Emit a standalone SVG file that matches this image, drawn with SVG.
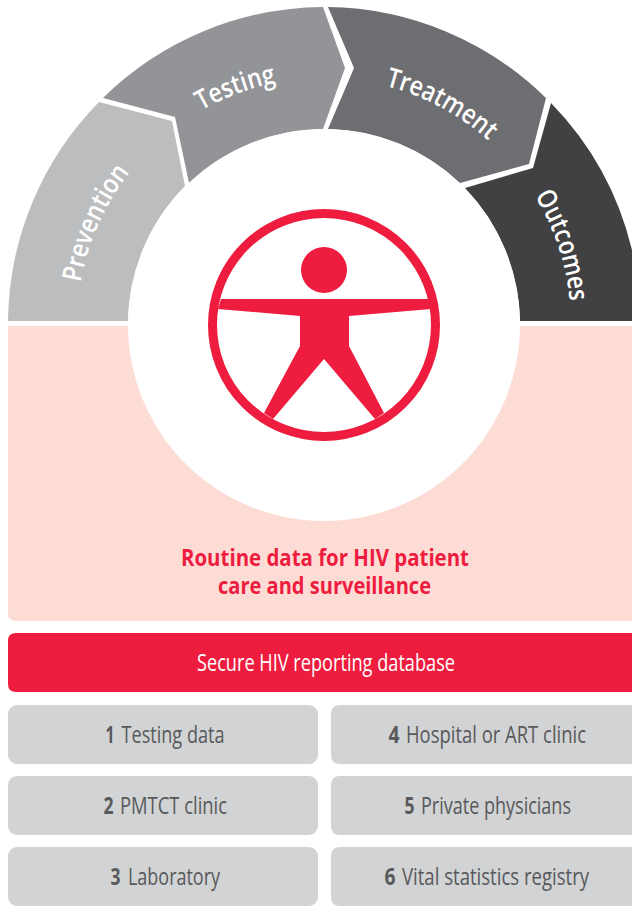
<svg xmlns="http://www.w3.org/2000/svg" width="632" height="906" viewBox="0 0 632 906">
<style>
text{font-family:"Open Sans","Noto Sans","Liberation Sans",sans-serif}
.arc{fill:#fff;font-size:27px;font-weight:600;text-anchor:middle}
.box{fill:#d1d3d4}
.lab{fill:#58595b;font-size:24px}
.num{fill:#58595b;font-size:24px;font-weight:700}
.red{fill:#ee1c3e}
</style>
<defs>
<path id="p1" d="M85.4 388.9A247 247 0 0 1 219.6 101.1"/>
<path id="p2" d="M110.1 201.5A247 247 0 0 1 408.5 92.9"/>
<path id="p3" d="M274.8 83A247 247 0 0 1 553.8 234.5"/>
<path id="p4" d="M451.2 113.3A247 247 0 0 1 554.6 413.5"/>
</defs>
<rect width="632" height="906" fill="#fff"/>
<g id="routine-data">
<path fill="#fddcd6" d="M8 326H632V621H16Q8 621 8 613Z"/>
</g>
<g id="prevention">
<path fill="#bcbdbf" d="M8 321A317 317 0 0 1 99 102L172 121L185 186A196 196 0 0 0 128 321Z"/>
<text class="arc"><textPath href="#p1" startOffset="48.8%" textLength="122" lengthAdjust="spacingAndGlyphs">Prevention</textPath></text>
</g>
<g id="testing">
<path fill="#929497" d="M103 98A317 317 0 0 1 323 7L345 68L323 129A196 196 0 0 0 189 183L175 117Z"/>
<text class="arc"><textPath href="#p2" startOffset="49.4%" textLength="80" lengthAdjust="spacingAndGlyphs">Testing</textPath></text>
</g>
<g id="treatment">
<path fill="#6d6e71" d="M328 7A317 317 0 0 1 546 98L529 164L460 183A196 196 0 0 0 328 129L354 68Z"/>
<text class="arc"><textPath href="#p3" startOffset="49.4%" textLength="118" lengthAdjust="spacingAndGlyphs">Treatment</textPath></text>
</g>
<g id="outcomes">
<path fill="#414042" d="M551 103A317 317 0 0 1 632 250V321H520A196 196 0 0 0 465 188L533 168Z"/>
<text class="arc"><textPath href="#p4" startOffset="50.6%" textLength="112" lengthAdjust="spacingAndGlyphs">Outcomes</textPath></text>
</g>
<g id="centre">
<circle cx="324" cy="325" r="196" fill="#fff"/>
<circle cx="324" cy="325" r="111.5" fill="none" stroke="#ee1c3e" stroke-width="9"/>
<circle class="red" cx="324" cy="270" r="23"/>
<path class="red" d="M221 299H428L431 309L349 316V346L384 413L375 419L324 359L273 419L264 413L300 346V316L218 309Z"/>
<text class="red" font-size="24" font-weight="700" transform="matrix(.85 0 0 1 181 566)" textLength="338.8" lengthAdjust="spacingAndGlyphs">Routine data for HIV patient</text>
<text class="red" font-size="24" font-weight="700" transform="matrix(.85 0 0 1 218 594)" textLength="250.6" lengthAdjust="spacingAndGlyphs">care and surveillance</text>
</g>
<g id="database">
<path class="red" d="M16 633H632V692H16Q8 692 8 684V641Q8 633 16 633Z"/>
<text transform="matrix(.8 0 0 1 197 671)" fill="#fff" font-size="24" textLength="322.5" lengthAdjust="spacingAndGlyphs">Secure HIV reporting database</text>
</g>
<g id="source-1"><rect class="box" x="8" y="705" width="310" height="59" rx="9"/><text class="num" x="105.5" y="743" textLength="9" lengthAdjust="spacingAndGlyphs">1</text><text class="lab" transform="matrix(.8 0 0 1 121.5 743)" textLength="128.8" lengthAdjust="spacingAndGlyphs">Testing data</text></g>
<g id="source-2"><rect class="box" x="8" y="776" width="310" height="59" rx="9"/><text class="num" x="103.5" y="814" textLength="10" lengthAdjust="spacingAndGlyphs">2</text><text class="lab" transform="matrix(.8 0 0 1 120 814)" textLength="133.8" lengthAdjust="spacingAndGlyphs">PMTCT clinic</text></g>
<g id="source-3"><rect class="box" x="8" y="847" width="310" height="59" rx="9"/><text class="num" x="110.5" y="885" textLength="10" lengthAdjust="spacingAndGlyphs">3</text><text class="lab" transform="matrix(.8 0 0 1 128 885)" textLength="115" lengthAdjust="spacingAndGlyphs">Laboratory</text></g>
<g id="source-4"><path class="box" d="M340 705H632V764H340Q331 764 331 755V714Q331 705 340 705Z"/><text class="num" x="388.5" y="743" textLength="11" lengthAdjust="spacingAndGlyphs">4</text><text class="lab" transform="matrix(.8 0 0 1 406 743)" textLength="225" lengthAdjust="spacingAndGlyphs">Hospital or ART clinic</text></g>
<g id="source-5"><path class="box" d="M340 776H632V835H340Q331 835 331 826V785Q331 776 340 776Z"/><text class="num" x="404.5" y="814" textLength="10" lengthAdjust="spacingAndGlyphs">5</text><text class="lab" transform="matrix(.8 0 0 1 421 814)" textLength="187.5" lengthAdjust="spacingAndGlyphs">Private physicians</text></g>
<g id="source-6"><path class="box" d="M340 847H632V906H340Q331 906 331 897V856Q331 847 340 847Z"/><text class="num" x="384.5" y="885" textLength="11" lengthAdjust="spacingAndGlyphs">6</text><text class="lab" transform="matrix(.8 0 0 1 402 885)" textLength="233.8" lengthAdjust="spacingAndGlyphs">Vital statistics registry</text></g>
</svg>
